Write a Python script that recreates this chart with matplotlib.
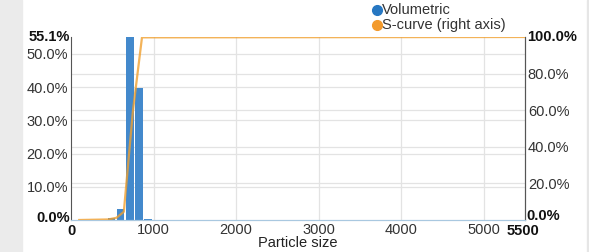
import numpy as np
import matplotlib.pyplot as plt
from matplotlib.patches import Rectangle
from matplotlib.lines import Line2D

plt.rcParams['font.family'] = ['Liberation Sans', 'DejaVu Sans']

# volumetric distribution (bars, left axis, %)
bin_centers = [490, 600, 710, 820, 930]
volumetric = [0.7, 3.3, 55.1, 39.7, 0.3]
bin_width = 95

# cumulative S-curve (right axis, %)
s_size = [100, 450, 550, 640, 750, 860, 5500]
s_cum = [0.0, 0.3, 1.2, 4.5, 59.5, 99.8, 100.0]

x_ticks = [1000, 2000, 3000, 4000, 5000]
left_ticks = [10, 20, 30, 40, 50]
right_ticks = [20, 40, 60, 80]
x_max = 5500
left_max = 55.1
right_max = 100.0

fig = plt.figure(figsize=(5.89, 2.52), dpi=100)
fig.patches.append(Rectangle((0, 0), 22 / 589, 1, transform=fig.transFigure,
                             color='#ebebeb', zorder=0))
fig.patches.append(Rectangle((587 / 589, 0), 2 / 589, 1, transform=fig.transFigure,
                             color='#e6e6e6', zorder=0))

ax = fig.add_axes([71 / 589, 1 - 220 / 252, 454 / 589, 183 / 252])
ax2 = ax.twinx()

ax.set_xlim(0, x_max)
ax.set_ylim(0, left_max)
ax2.set_ylim(0, right_max)

# grid lines from both axes
for v in left_ticks:
    ax.axhline(v, color='#e3e3e3', lw=0.9, zorder=0)
for v in right_ticks:
    ax.axhline(v / right_max * left_max, color='#e3e3e3', lw=0.9, zorder=0)
for v in x_ticks:
    ax.axvline(v, color='#e3e3e3', lw=0.9, zorder=0)

ax.bar(bin_centers, volumetric, width=bin_width, color='#4389cc', zorder=2)
ax2.plot(s_size, s_cum, color='#f0a030', lw=1.6, alpha=0.8, zorder=3)

for a in (ax, ax2):
    a.spines['top'].set_visible(False)
    a.spines['bottom'].set_color('#a9c8e0')
    a.spines['left'].set_color('#555555')
    a.spines['right'].set_color('#555555')
    a.tick_params(length=0)
ax2.spines['left'].set_visible(False)

ax.set_xticks(x_ticks)
ax.set_xticklabels([str(v) for v in x_ticks], fontsize=10.5, color='#333333')
ax.tick_params(axis='x', pad=2)
ax.set_yticks(left_ticks)
ax.set_yticklabels(['%.1f%%' % v for v in left_ticks], fontsize=10.5, color='#333333')
ax.tick_params(axis='y', pad=2)
ax2.set_yticks(right_ticks)
ax2.set_yticklabels(['%.1f%%' % v for v in right_ticks], fontsize=10.5, color='#333333')
ax2.tick_params(axis='y', pad=2)

# bold min / max labels
ax.text(-0.002, 1.0, '%.1f%%' % left_max, transform=ax.transAxes, ha='right', va='center',
        fontsize=10.5, fontweight='bold', color='#111111')
ax.text(-0.003, 0.01, '0.0%', transform=ax.transAxes, ha='right', va='center',
        fontsize=10.5, fontweight='bold', color='#111111')
ax.text(1.004, 1.0, '%.1f%%' % right_max, transform=ax.transAxes, ha='left', va='center',
        fontsize=10.5, fontweight='bold', color='#111111')
ax.text(1.004, 0.02, '0.0%', transform=ax.transAxes, ha='left', va='center',
        fontsize=10.5, fontweight='bold', color='#111111')
ax.text(0.0, -0.06, '0', transform=ax.transAxes, ha='center', va='center',
        fontsize=10.5, fontweight='bold', color='#111111')
ax.text(0.995, -0.06, str(x_max), transform=ax.transAxes, ha='center', va='center',
        fontsize=10.5, fontweight='bold', color='#111111')

fig.text(298 / 589, 1 - 243 / 252, 'Particle size', ha='center', va='center',
         fontsize=10.5, color='#222222')

# legend
legend_items = [('Volumetric', '#2677c2', 10), ('S-curve (right axis)', '#f39a2c', 25)]
for label, col, ypx in legend_items:
    fig.add_artist(Line2D([377 / 589], [1 - ypx / 252], marker='o', markersize=7,
                          color=col, linestyle='none', transform=fig.transFigure))
    fig.text(382 / 589, 1 - ypx / 252, label, ha='left', va='center', fontsize=10.5,
             color='#333333')

fig.savefig('out.png', dpi=100)
